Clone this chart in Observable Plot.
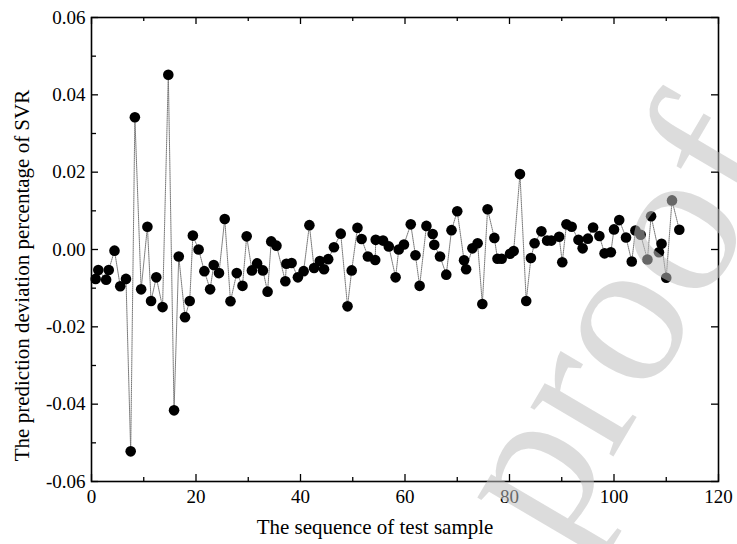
<!DOCTYPE html>
<html><head><meta charset="utf-8">
<script src="https://cdn.jsdelivr.net/npm/d3@7"></script>
<script src="https://cdn.jsdelivr.net/npm/@observablehq/plot@0.6"></script>
<style>html,body{margin:0;padding:0;background:#fff;} svg{display:block}</style>
</head><body><div id="chart"></div>
<script>
const sampleX = [0.8,1.3,2.8,3.3,4.4,5.5,6.6,7.5,8.3,9.5,
  10.7,11.4,12.4,13.6,14.7,15.8,16.7,17.9,18.8,19.4,
  20.5,21.6,22.7,23.4,24.4,25.5,26.6,27.8,28.9,29.7,
  30.7,31.7,32.8,33.7,34.4,35.4,37.1,37.3,38.3,39.5,
  40.6,41.7,42.6,43.7,44.5,45.3,46.4,47.7,49.0,49.8,
  50.9,51.7,52.9,54.3,54.4,55.8,56.9,58.2,58.8,59.8,
  61.1,62.0,62.8,64.1,65.3,65.6,66.7,67.9,68.9,70.0,
  71.3,71.7,72.9,73.9,74.8,75.8,77.1,77.7,78.5,80.1,
  80.8,82.0,83.2,84.1,84.8,86.1,87.2,88.0,89.5,90.1,
  90.9,91.9,93.2,94.0,95.0,96.0,97.2,98.2,99.4,100.0,
  101.0,102.3,103.4,104.1,105.1,106.4,107.1,108.6,109.1,110.0,
  111.1,112.5];
const deviation = [-0.0076,-0.0053,-0.0078,-0.0053,-0.0003,-0.0095,-0.0076,-0.0522,0.0342,-0.0103,
  0.0059,-0.0133,-0.0072,-0.0149,0.0452,-0.0416,-0.0018,-0.0175,-0.0133,0.0036,
  0.0000,-0.0056,-0.0103,-0.0040,-0.0061,0.0079,-0.0134,-0.0061,-0.0094,0.0034,
  -0.0054,-0.0036,-0.0054,-0.0109,0.0021,0.0010,-0.0082,-0.0037,-0.0035,-0.0072,
  -0.0056,0.0063,-0.0048,-0.0030,-0.0051,-0.0025,0.0006,0.0041,-0.0147,-0.0054,
  0.0056,0.0027,-0.0018,-0.0027,0.0025,0.0023,0.0008,-0.0072,0.0000,0.0013,
  0.0065,-0.0015,-0.0094,0.0061,0.0040,0.0012,-0.0018,-0.0065,0.0050,0.0099,
  -0.0028,-0.0051,0.0003,0.0016,-0.0141,0.0104,0.0030,-0.0024,-0.0024,-0.0011,
  -0.0004,0.0195,-0.0133,-0.0022,0.0016,0.0047,0.0023,0.0023,0.0033,-0.0033,
  0.0065,0.0059,0.0025,0.0003,0.0028,0.0057,0.0035,-0.0010,-0.0007,0.0052,
  0.0076,0.0031,-0.0031,0.0049,0.0038,-0.0026,0.0086,-0.0007,0.0015,-0.0073,
  0.0127,0.0051];
const xTickValues = [0,20,40,60,80,100,120];
const xMinorTicks = [10,30,50,70,90,110];
const yTickValues = [-0.06,-0.04,-0.02,0,0.02,0.04,0.06];
const yMinorTicks = [-0.05,-0.03,-0.01,0.01,0.03,0.05];
const xTitle = "The sequence of test sample";
const yTitle = "The prediction deviation percentage of SVR";
const watermark = "proof";

const data = sampleX.map((x, i) => ({x, y: deviation[i]}));
const W = 737, H = 544, mL = 91, mR = 19, mT = 17, mB = 63;
const ph = H - mT - mB, pw = W - mL - mR;
const font = "'Liberation Serif','Times New Roman',serif";
const tk = {stroke: "black", strokeWidth: 1.3};

const chart = Plot.plot({
  width: W, height: H, marginLeft: mL, marginRight: mR, marginTop: mT, marginBottom: mB,
  style: {fontFamily: font, background: "#fff", color: "black"},
  x: {domain: [0, 120], label: null},
  y: {domain: [-0.06, 0.06], label: null},
  marks: [
    Plot.line(data, {x: "x", y: "y", stroke: "#777", strokeWidth: 1, strokeDasharray: "1,1"}),
    Plot.dot(data, {x: "x", y: "y", r: 5.3, fill: "black", stroke: "none"}),
    Plot.tickX(xTickValues, {x: d => d, insetTop: ph - 7, ...tk}),
    Plot.tickX(xTickValues, {x: d => d, insetBottom: ph - 7, ...tk}),
    Plot.tickX(xMinorTicks, {x: d => d, insetTop: ph - 4, ...tk}),
    Plot.tickX(xMinorTicks, {x: d => d, insetBottom: ph - 4, ...tk}),
    Plot.tickY(yTickValues, {y: d => d, insetRight: pw - 7, ...tk}),
    Plot.tickY(yMinorTicks, {y: d => d, insetRight: pw - 5, ...tk}),
    Plot.tickY(yTickValues, {y: d => d, insetLeft: pw - 7, ...tk}),
    Plot.frame({stroke: "black", strokeWidth: 1.6}),
    Plot.axisX(xTickValues, {tickSize: 0, tickPadding: 8, fontSize: 19, label: null, tickFormat: d => String(d)}),
    Plot.axisY(yTickValues, {tickSize: 0, tickPadding: 6, fontSize: 19, label: null, tickFormat: d => d.toFixed(2)}),
    Plot.text([xTitle], {frameAnchor: "bottom", textAnchor: "middle", lineAnchor: "middle", dx: -30, dy: 46,
      fontSize: 21, text: d => d, fill: "black"}),
    Plot.text([yTitle], {frameAnchor: "left", textAnchor: "middle", lineAnchor: "middle", rotate: -90, dx: -69, dy: 26,
      fontSize: 21, text: d => d, fill: "black"}),
    Plot.text([watermark], {frameAnchor: "top-left", textAnchor: "middle", lineAnchor: "middle", dx: 524, dy: 303,
      rotate: -59.5, fontSize: 210, fill: "rgb(190,190,190)", fillOpacity: 0.54, text: d => d})
  ]
});
document.getElementById("chart").appendChild(chart);
</script>
</body></html>
